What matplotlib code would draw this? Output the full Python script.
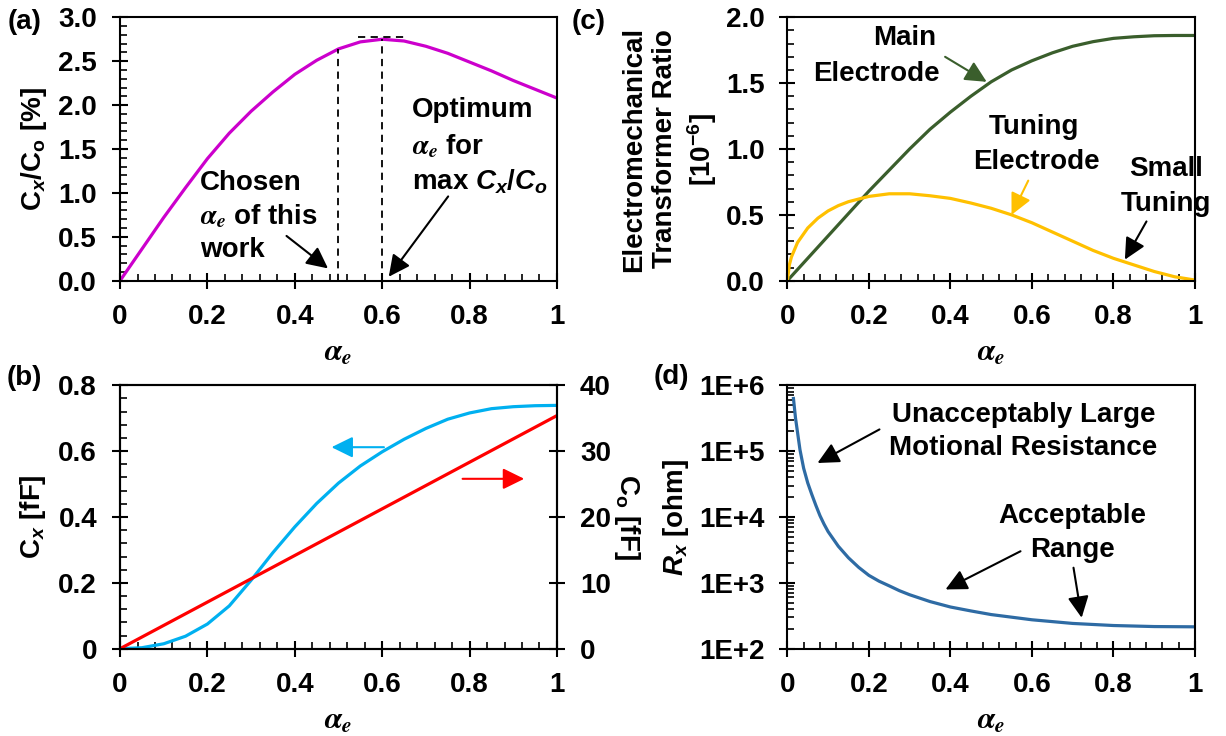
import matplotlib
matplotlib.use("Agg")
import matplotlib.pyplot as plt
import matplotlib.ticker as mticker
import numpy as np

# ---------------------------------------------------------------------------
# Data
# ---------------------------------------------------------------------------
alpha_a = [0, 0.05, 0.1, 0.15, 0.2, 0.25, 0.3, 0.35, 0.4, 0.45, 0.5,
           0.55, 0.6, 0.65, 0.7, 0.75, 0.8, 0.85, 0.9, 0.95, 1.0]
cx_co_pct = [0, 0.36, 0.72, 1.06, 1.39, 1.68, 1.93, 2.15, 2.35, 2.51, 2.64,
             2.72, 2.75, 2.73, 2.67, 2.59, 2.49, 2.39, 2.28, 2.18, 2.08]

alpha_b = alpha_a
cx_fF = [0, 0.003, 0.015, 0.038, 0.075, 0.130, 0.208, 0.292, 0.370, 0.441, 0.503,
         0.555, 0.598, 0.636, 0.669, 0.697, 0.716, 0.729, 0.735, 0.738, 0.739]
alpha_co = [0, 1.0]
co_fF = [0, 35.4]

alpha_main = alpha_a
eta_main = [0, 0.17, 0.34, 0.51, 0.68, 0.84, 1.00, 1.15, 1.28, 1.40, 1.51,
            1.60, 1.67, 1.73, 1.78, 1.815, 1.84, 1.852, 1.86, 1.862, 1.862]
alpha_tune = [0, 0.005, 0.01, 0.025, 0.05, 0.075, 0.1, 0.125, 0.15, 0.2, 0.25, 0.3,
              0.35, 0.4, 0.45, 0.5, 0.55, 0.6, 0.65, 0.7, 0.75, 0.8, 0.85, 0.9,
              0.95, 1.0]
eta_tune = [0, 0.12, 0.18, 0.29, 0.40, 0.475, 0.53, 0.57, 0.60, 0.64, 0.66, 0.66,
            0.645, 0.625, 0.59, 0.55, 0.50, 0.44, 0.37, 0.30, 0.23, 0.17, 0.12, 0.07,
            0.03, 0.005]

alpha_rx = [0.015, 0.02, 0.031, 0.04, 0.05, 0.06, 0.07, 0.08, 0.09, 0.1, 0.125, 0.15,
            0.175, 0.2, 0.225, 0.25, 0.275, 0.3, 0.35, 0.4, 0.45, 0.5, 0.6, 0.7,
            0.8, 0.9, 1.0]
rx_ohm = [6.3e5, 3.2e5, 1.05e5, 5.5e4, 3.3e4, 2.2e4, 1.5e4, 1.05e4, 7.8e3, 6.0e3,
          3.6e3, 2.4e3, 1.72e3, 1.3e3, 1.06e3, 9.0e2, 7.6e2, 6.6e2, 5.2e2, 4.3e2,
          3.75e2, 3.3e2, 2.75e2, 2.42e2, 2.25e2, 2.17e2, 2.15e2]

MAGENTA = "#CC00CC"
CYAN = "#00B0F0"
RED = "#FF0000"
GREEN = "#3A5E2C"
YELLOW = "#FFC000"
BLUE = "#2E6BA4"

plt.rcParams["font.family"] = ["Liberation Sans", "DejaVu Sans"]
plt.rcParams["font.weight"] = "bold"
plt.rcParams["axes.labelweight"] = "bold"
plt.rcParams["mathtext.fontset"] = "custom"
plt.rcParams["mathtext.rm"] = "Liberation Sans:bold"
plt.rcParams["mathtext.bf"] = "Liberation Sans:bold"
plt.rcParams["mathtext.it"] = "Liberation Sans:italic:bold"

FS = 20
LW = 2.3


def style_axes(ax, xminor=0.04, yminor=None):
    for s in ax.spines.values():
        s.set_linewidth(1.5)
    ax.set_xlim(0, 1)
    ax.xaxis.set_major_locator(mticker.MultipleLocator(0.2))
    ax.xaxis.set_minor_locator(mticker.MultipleLocator(xminor))
    ax.xaxis.set_major_formatter(mticker.FuncFormatter(lambda v, _: f"{v:g}"))
    if yminor is not None:
        ax.yaxis.set_minor_locator(mticker.MultipleLocator(yminor))
    ax.tick_params(which="major", direction="inout", length=11, width=1.5,
                   labelsize=FS, pad=11)
    ax.tick_params(which="minor", direction="in", length=5, width=1.2)
    ax.tick_params(top=False, right=False, which="both")
    ax.set_xlabel(r"$\alpha_e$", fontsize=22, math_fontfamily="stix")
    ax.xaxis.set_label_coords(0.5, -0.275)
    ax.xaxis.label.set_va("center")


def arrow(ax, tail, head, color="black"):
    ax.annotate("", xy=head, xytext=tail,
                arrowprops=dict(arrowstyle="-|>,head_length=0.65,head_width=0.32",
                                color=color, lw=1.5, mutation_scale=20,
                                shrinkA=0, shrinkB=0))


def text_line(ax, x, y, s, ha="left", math="custom"):
    ax.text(x, y, s, fontsize=FS, fontweight="bold", ha=ha, va="center",
            math_fontfamily=math)


fig = plt.figure(figsize=(12.26, 7.36), dpi=100)
ax_a = fig.add_axes([0.0979, 0.6186, 0.3564, 0.3579])
ax_b = fig.add_axes([0.0979, 0.1186, 0.3564, 0.3579])
ax_c = fig.add_axes([0.6422, 0.6186, 0.3325, 0.3579])
ax_d = fig.add_axes([0.6422, 0.1186, 0.3325, 0.3579])

# --- (a) Cx/Co ---
ax = ax_a
ax.plot(alpha_a, cx_co_pct, color=MAGENTA, lw=LW)
ax.set_ylim(0, 3.0)
ax.yaxis.set_major_locator(mticker.MultipleLocator(0.5))
ax.yaxis.set_major_formatter(mticker.FormatStrFormatter("%.1f"))
style_axes(ax, yminor=0.1)
dash = (0, (4, 3))
ax.plot([0.5, 0.5], [0, 2.64], color="black", lw=1.3, ls=dash)
ax.plot([0.6, 0.6], [0, 2.75], color="black", lw=1.3, ls=dash)
ax.plot([0.545, 0.652], [2.78, 2.78], color="black", lw=1.3, ls=dash)
text_line(ax, 0.183, 1.11, "Chosen")
text_line(ax, 0.183, 0.73, r"$\alpha_e$ of this", math="stix")
text_line(ax, 0.183, 0.35, "work")
text_line(ax, 0.669, 1.94, "Optimum")
text_line(ax, 0.669, 1.53, r"$\alpha_e$ for", math="stix")
text_line(ax, 0.669, 1.13, r"max $C_x$/$C_o$")
arrow(ax, (0.381, 0.51), (0.476, 0.14))
arrow(ax, (0.751, 0.96), (0.615, 0.045))
ax.set_ylabel(r"C$_x$/C$_\mathrm{o}$ [%]", fontsize=FS)
ax.yaxis.set_label_coords(-0.197, 0.5)
ax.yaxis.label.set_va("center")

# --- (b) Cx and Co ---
ax = ax_b
ax.plot(alpha_b, cx_fF, color=CYAN, lw=LW)
ax.set_ylim(0, 0.8)
ax.yaxis.set_major_locator(mticker.MultipleLocator(0.2))
ax.yaxis.set_major_formatter(mticker.FuncFormatter(lambda v, _: f"{v:g}"))
style_axes(ax, yminor=0.04)
ax.set_ylabel(r"C$_x$ [fF]", fontsize=FS)
ax.yaxis.set_label_coords(-0.2, 0.5)
ax.yaxis.label.set_va("center")
axr = ax.twinx()
axr.plot(alpha_co, co_fF, color=RED, lw=LW)
axr.set_ylim(0, 40)
axr.yaxis.set_major_locator(mticker.MultipleLocator(10))
axr.tick_params(which="major", direction="inout", length=11, width=1.5,
                labelsize=FS, pad=11)
for s in axr.spines.values():
    s.set_linewidth(1.5)
axr.set_ylabel(r"C$_\mathrm{o}$ [fF]", fontsize=FS, rotation=270)
axr.yaxis.set_label_coords(1.16, 0.5)
axr.yaxis.label.set_va("center")
arrow(ax, (0.604, 0.612), (0.484, 0.612), color=CYAN)
arrow(ax, (0.784, 0.516), (0.925, 0.516), color=RED)

# --- (c) transformer ratio ---
ax = ax_c
ax.plot(alpha_main, eta_main, color=GREEN, lw=LW)
ax.plot(alpha_tune, eta_tune, color=YELLOW, lw=LW)
ax.set_ylim(0, 2.0)
ax.yaxis.set_major_locator(mticker.MultipleLocator(0.5))
ax.yaxis.set_major_formatter(mticker.FormatStrFormatter("%.1f"))
style_axes(ax, yminor=0.1)
text_line(ax, 0.289, 1.84, "Main", ha="center")
text_line(ax, 0.219, 1.57, "Electrode", ha="center")
text_line(ax, 0.605, 1.165, "Tuning", ha="center")
text_line(ax, 0.612, 0.90, "Electrode", ha="center")
text_line(ax, 0.929, 0.85, "Small", ha="center")
text_line(ax, 0.929, 0.58, "Tuning", ha="center")
arrow(ax, (0.387, 1.70), (0.489, 1.51), color=GREEN)
arrow(ax, (0.591, 0.76), (0.550, 0.50), color=YELLOW)
arrow(ax, (0.881, 0.45), (0.828, 0.16))
ax.set_ylabel("Electromechanical\nTransformer Ratio\n[10$^{\\mathrm{-6}}$]",
              fontsize=FS, linespacing=1.25)
ax.yaxis.set_label_coords(-0.288, 0.5)
ax.yaxis.label.set_va("center")

# --- (d) motional resistance ---
ax = ax_d
ax.plot(alpha_rx, rx_ohm, color=BLUE, lw=LW)
ax.set_yscale("log")
ax.set_ylim(1e2, 1e6)
ax.yaxis.set_major_locator(mticker.LogLocator(base=10, numticks=10))
ax.yaxis.set_minor_locator(mticker.LogLocator(base=10, subs=np.arange(2, 10), numticks=10))
ax.yaxis.set_minor_formatter(mticker.NullFormatter())
ax.yaxis.set_major_formatter(
    mticker.FuncFormatter(lambda v, _: f"1E+{int(round(np.log10(v)))}"))
style_axes(ax)
text_line(ax, 0.579, 10 ** 5.55, "Unacceptably Large", ha="center")
text_line(ax, 0.579, 10 ** 5.05, "Motional Resistance", ha="center")
text_line(ax, 0.70, 10 ** 4.01, "Acceptable", ha="center")
text_line(ax, 0.699, 10 ** 3.50, "Range", ha="center")
arrow(ax, (0.226, 10 ** 5.33), (0.074, 10 ** 4.82))
arrow(ax, (0.572, 10 ** 3.48), (0.388, 10 ** 2.90))
arrow(ax, (0.702, 10 ** 3.23), (0.722, 10 ** 2.47))
ax.set_ylabel(r"$R$$_x$ [ohm]", fontsize=FS)
ax.yaxis.set_label_coords(-0.273, 0.5)
ax.yaxis.label.set_va("center")

# panel letters
for s, x, y in [("(a)", 25, 22), ("(b)", 24, 378), ("(c)", 589, 22), ("(d)", 671, 377)]:
    fig.text(x / 1226, 1 - y / 736, s, fontsize=FS, fontweight="bold",
             ha="center", va="center")

fig.savefig("out.png", dpi=100)
